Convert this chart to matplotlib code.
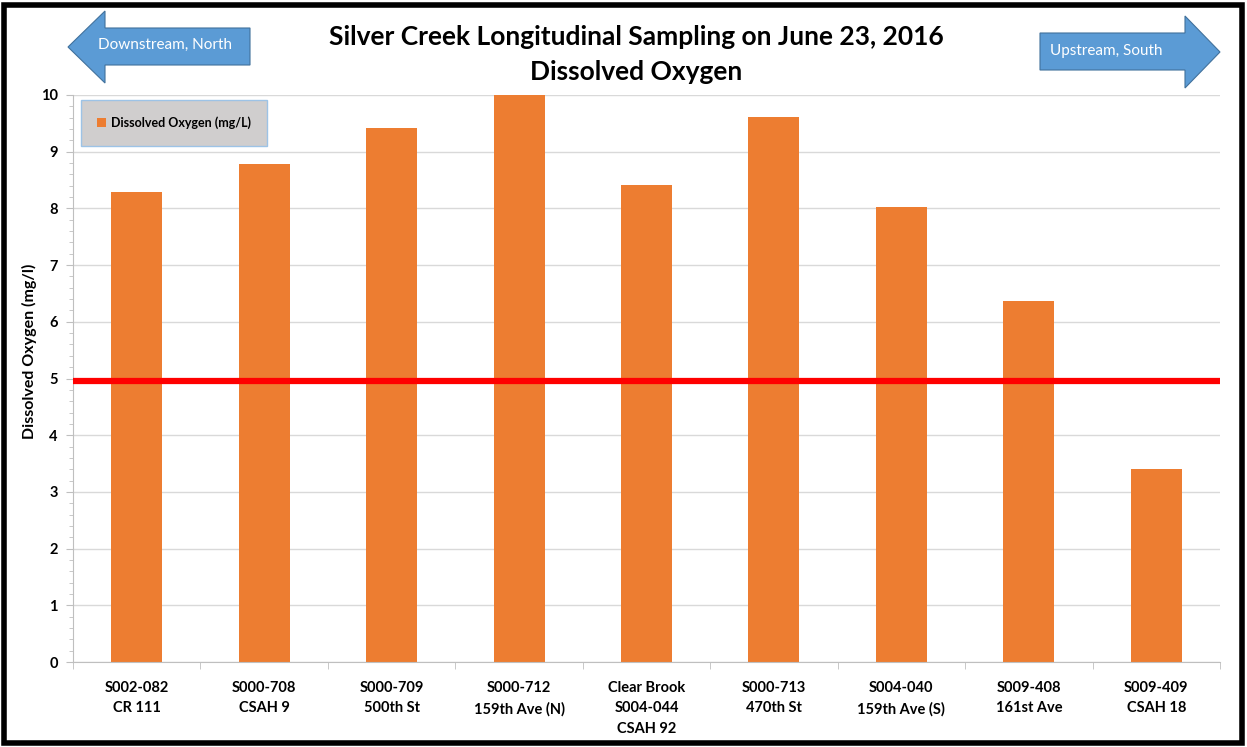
import matplotlib
matplotlib.use("Agg")
import matplotlib.pyplot as plt
from matplotlib.patches import Polygon, Rectangle
from matplotlib.ticker import MultipleLocator

plt.rcParams['font.family'] = ['Lato', 'DejaVu Sans']

# site labels (downstream -> upstream)
sites = ["S002-082\nCR 111", "S000-708\nCSAH 9", "S000-709\n500th St",
         "S000-712\n159th Ave (N)", "Clear Brook\nS004-044\nCSAH 92",
         "S000-713\n470th St", "S004-040\n159th Ave (S)", "S009-408\n161st Ave",
         "S009-409\nCSAH 18"]
do_values = [8.29, 8.78, 9.42, 10.0, 8.41, 9.61, 8.02, 6.37, 3.40]
standard = 4.95

W, H = 1247, 747
fig = plt.figure(figsize=(W / 100, H / 100), dpi=100)

# axes placed in pixel terms
left, right, top, bottom = 73, 1220, 95, 662
ax = fig.add_axes([left / W, 1 - bottom / H, (right - left) / W, (bottom - top) / H])

x = range(len(sites))
ax.bar(x, do_values, width=0.4, color='#ED7D31', zorder=2,
       label='Dissolved Oxygen (mg/L)')
ax.axhline(standard, color='#FF0000', lw=4.5, zorder=3)

ax.set_xlim(-0.5, len(sites) - 0.5)
ax.set_ylim(0, 10)
ax.yaxis.set_major_locator(MultipleLocator(1))
ax.yaxis.set_minor_locator(MultipleLocator(0.2))
ax.grid(axis='y', which='major', color='#D9D9D9', lw=1, zorder=0)
ax.set_xticks(x)
ax.set_xticklabels(sites, fontsize=10.5, fontweight='bold', linespacing=1.55)
ax.set_xticks([i + 0.5 for i in range(-1, len(sites))], minor=True)
ax.tick_params(axis='x', which='major', length=0, pad=14)
ax.tick_params(axis='x', which='minor', length=5, color='#BFBFBF')
ax.tick_params(axis='y', which='major', length=5, color='#BFBFBF', labelsize=10.5, pad=6)
ax.tick_params(axis='y', which='minor', length=3, color='#BFBFBF')
for lbl in ax.get_yticklabels():
    lbl.set_fontweight('bold')
for s in ['top', 'right']:
    ax.spines[s].set_visible(False)
for s in ['left', 'bottom']:
    ax.spines[s].set_color('#BFBFBF')
ax.set_ylabel('Dissolved Oxygen (mg/l)', fontsize=11.5, fontweight='bold')
ax.yaxis.set_label_coords(-0.031, 0.548)

leg = ax.legend(loc='upper left', bbox_to_anchor=(0.005, 0.995), fontsize=9,
                frameon=True, fancybox=False, handlelength=0.7, handleheight=0.7,
                handletextpad=0.4, borderpad=1.3, borderaxespad=0.2)
leg.get_frame().set_facecolor('#D0CECE')
leg.get_frame().set_edgecolor('#9DC3E6')
leg.get_frame().set_alpha(1)
for t in leg.get_texts():
    t.set_fontweight('bold')

# title
fig.text(636 / W, 1 - 37 / H, 'Silver Creek Longitudinal Sampling on June 23, 2016',
         ha='center', va='center', fontsize=19, fontweight='bold')
fig.text(636 / W, 1 - 72 / H, 'Dissolved Oxygen',
         ha='center', va='center', fontsize=19, fontweight='bold')

def px(pts):
    return [(a / W, 1 - b / H) for a, b in pts]

arrow_fc, arrow_ec = '#5B9BD5', '#41719C'
left_arrow = px([(68, 47), (105, 11), (105, 28), (250, 28), (250, 65), (105, 65), (105, 83)])
right_arrow = px([(1220, 52), (1185, 16), (1185, 33), (1040, 33), (1040, 70), (1185, 70), (1185, 88)])
for pts in (left_arrow, right_arrow):
    fig.patches.append(Polygon(pts, closed=True, fc=arrow_fc, ec=arrow_ec, lw=0.8,
                               transform=fig.transFigure))
fig.text(165 / W, 1 - 45 / H, 'Downstream, North', ha='center', va='center',
         fontsize=11, color='white')
fig.text(1106 / W, 1 - 51 / H, 'Upstream, South', ha='center', va='center',
         fontsize=11, color='white')

# outer frame
fig.patches.append(Rectangle((4 / W, 4 / H), 1 - 9 / W, 1 - 9 / H, fill=False,
                             ec='black', lw=4, transform=fig.transFigure))

fig.savefig('out.png', dpi=100)
